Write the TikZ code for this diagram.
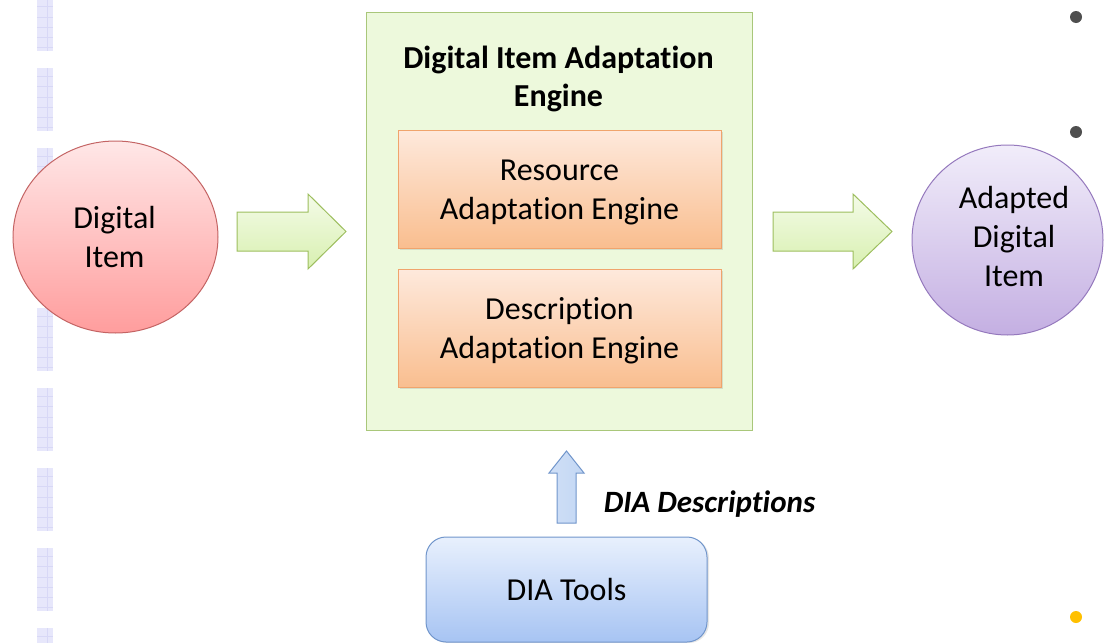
\documentclass[tikz,border=0pt]{standalone}
\usepackage{fontspec}
\setmainfont{Carlito}[RawFeature={-liga;-clig;-calt}]
\usetikzlibrary{shapes.geometric,shadows}
\definecolor{lav}{HTML}{E7E7FB}
\definecolor{lavline}{HTML}{D8D8F6}
\definecolor{boxgreen}{HTML}{EDF9DC}
\definecolor{boxgreenb}{HTML}{A9C77A}
\definecolor{orgtop}{HTML}{FEE9DC}
\definecolor{orgbot}{HTML}{F9BE8F}
\definecolor{orgb}{HTML}{F0A46C}
\definecolor{redtop}{HTML}{FFE7E7}
\definecolor{redbot}{HTML}{FF9D9D}
\definecolor{redb}{HTML}{C46464}
\definecolor{purtop}{HTML}{F1EDFA}
\definecolor{purbot}{HTML}{C4AFE2}
\definecolor{purb}{HTML}{9579BD}
\definecolor{arrtop}{HTML}{F4FBE8}
\definecolor{arrbot}{HTML}{D8F0B0}
\definecolor{arrb}{HTML}{9DBE5E}
\definecolor{bluetop}{HTML}{E8F0FD}
\definecolor{bluebot}{HTML}{A7C4F3}
\definecolor{blueb}{HTML}{7095CB}
\definecolor{uparrfill}{HTML}{C3D7F4}
\definecolor{bullgray}{HTML}{4F4F4F}
\definecolor{bullor}{HTML}{FFC000}
\tikzset{
  txt/.style={font=\fontsize{32}{39}\selectfont, align=center, inner sep=0, text=black},
  orgbox/.style={draw=orgb, line width=1pt, top color=orgtop, bottom color=orgbot,
     minimum width=323, minimum height=118, inner sep=0,
     drop shadow={opacity=0.22, shadow xshift=1.5pt, shadow yshift=-1.5pt}},
  blockarrow/.style={draw=arrb, line width=1pt, top color=arrtop, bottom color=arrbot},
  bullet/.style={circle, inner sep=0, minimum size=12}
}
\begin{document}
\begin{tikzpicture}[x=1pt,y=-1pt]
\useasboundingbox (0,0) rectangle (1104,643);
\begin{scope}
\clip (0,0) rectangle (1104,643);
% dashed lavender strip
\foreach \k in {0,...,8}{
  \pgfmathsetmacro{\ya}{-12+80*\k}
  \fill[lav] (37,\ya) rectangle (53,\ya+63);
  \foreach \j in {1,...,6}{
    \draw[lavline, line width=0.7pt] (37,\ya+\j*10.3-2) -- (53,\ya+\j*10.3-2);
  }
  \draw[lavline, line width=0.7pt] (47,\ya) -- (47,\ya+63);
}

% left ellipse
\node[ellipse, draw=redb, line width=1pt, top color=redtop, bottom color=redbot,
      minimum width=205, minimum height=192, inner sep=0] (di) at (115.5,237) {};
\node[txt] (ditxt) at (114.5,236.8) {Digital\\Item};

% main engine box
\node[draw=boxgreenb, line width=1pt, fill=boxgreen, minimum width=386, minimum height=418, inner sep=0] (dia) at (559,221) {};
\node[txt, font=\fontsize{32}{38}\selectfont\bfseries] (diatitle) at (558.5,79) {Digital Item Adaptation\\Engine};

\node[orgbox] (rae) at (559.5,189) {};
\node[txt] (raetxt) at (559.5,192.2) {Resource\\Adaptation Engine};
\node[orgbox] (dae) at (559.5,328.5) {};
\node[txt] (daetxt) at (559.5,330.8) {Description\\Adaptation Engine};

% right ellipse
\node[ellipse, draw=purb, line width=1pt, top color=purtop, bottom color=purbot,
      minimum width=191, minimum height=190, inner sep=0] (adi) at (1007.5,240) {};
\node[txt] (aditxt) at (1014,237) {Adapted\\Digital\\Item};

% block arrows
\coordinate (a1) at (237,231.5);
\coordinate (a2) at (773,231.5);
\path[blockarrow] (a1) ++(0,-19.5) -- ++(71,0) -- ++(0,-18) -- ++(38,37.5) -- ++(-38,37.5) -- ++(0,-18) -- ++(-71,0) -- cycle;
\path[blockarrow] (a2) ++(0,-19.5) -- ++(80,0) -- ++(0,-18) -- ++(39,37.5) -- ++(-39,37.5) -- ++(0,-18) -- ++(-80,0) -- cycle;

% DIA tools
\node[draw=blueb, line width=1pt, top color=bluetop, bottom color=bluebot, rounded corners=20,
      minimum width=281, minimum height=105, inner sep=0,
      drop shadow={opacity=0.2, shadow xshift=2pt, shadow yshift=-1pt}] (tools) at (566.5,589.5) {};
\node[txt] (toolstxt) at (566.5,589.5) {DIA Tools};

% up arrow
\coordinate (ua) at (566.5,523);
\path[draw=blueb, line width=1pt, left color=uparrfill!80!white, right color=uparrfill] (ua) ++(-9.5,0) -- ++(0,-50) -- ++(-8,0) -- ++(17.5,-22) -- ++(17.5,22) -- ++(-8,0) -- ++(0,50) -- cycle;
\node[txt, font=\fontsize{31}{39}\selectfont\bfseries\itshape, anchor=base] (desc) at (709.5,512) {DIA Descriptions};

% bullets
\node[bullet, fill=bullgray] (b1) at (1076,17) {};
\node[bullet, fill=bullgray] (b2) at (1076,132) {};
\node[bullet, fill=bullor] (b3) at (1076,617) {};
\end{scope}
\end{tikzpicture}
\end{document}
